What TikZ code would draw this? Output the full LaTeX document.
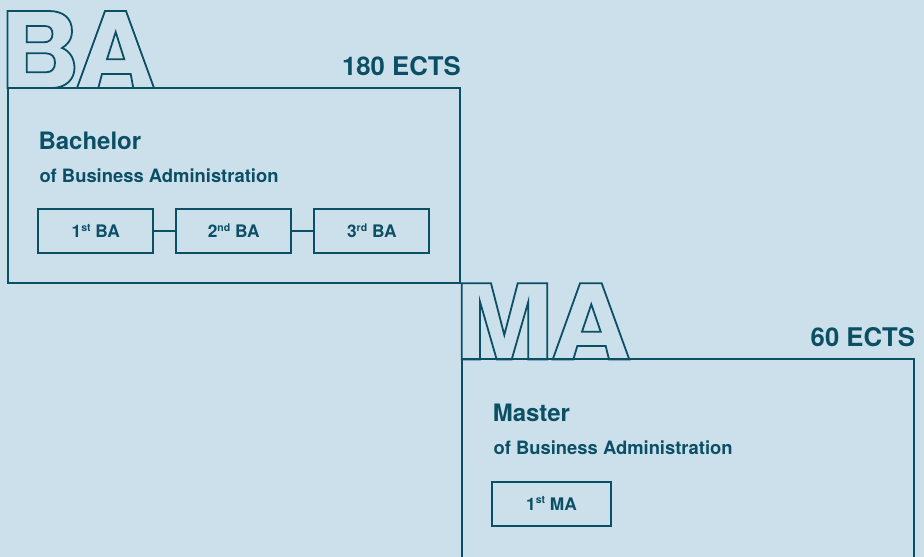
\documentclass[tikz,border=0pt]{standalone}
\usepackage{fontspec}
\setmainfont{TeX Gyre Heros}
\definecolor{bgc}{HTML}{CCE0EB}
\definecolor{fgc}{HTML}{0B4F65}
\newcommand{\myord}[1]{\raisebox{6.3pt}{\fontsize{10.5}{10.5}\selectfont #1}}
\tikzset{
  frame/.style={draw=fgc, line width=2pt},
  letter/.style={draw=fgc, line width=1.8pt, line join=miter},
  txt/.style={inner sep=0pt, text=fgc},
  yearbox/.style={draw=fgc, line width=2pt, minimum width=115pt, minimum height=44pt,
    inner sep=0pt, text height=12.4pt, text depth=0pt, text=fgc,
    font=\fontsize{17.3}{19}\selectfont\bfseries},
  ectsfont/.style={font=\fontsize{25.7}{30}\selectfont\bfseries},
  titlefont/.style={font=\fontsize{24}{28}\selectfont\bfseries},
  subfont/.style={font=\fontsize{18.4}{22}\selectfont\bfseries}
}
\begin{document}
\begin{tikzpicture}[x=1pt,y=-1pt]
\fill[bgc] (0,0) rectangle (924,557);
\useasboundingbox (0,0) rectangle (924,557);

% ---- big outlined BA ----
\draw[letter] (7.5,88) -- (7.5,11) -- (49,11) .. controls (63,11) and (72,18) .. (72,31)
  .. controls (72,40) and (67,45) .. (62,48) .. controls (70,51) and (74.5,59) .. (74.5,68)
  .. controls (74.5,80) and (65,88) .. (52,88) -- cycle;
\draw[letter] (26.7,26) -- (45,26) .. controls (50,26) and (52.5,29) .. (52.5,34)
  .. controls (52.5,39.5) and (49,42.3) .. (44,42.3) -- (26.7,42.3) -- cycle;
\draw[letter] (26.7,53.3) -- (46,53.3) .. controls (52,53.3) and (55,57) .. (55,62.8)
  .. controls (55,68.5) and (52,72.3) .. (46,72.3) -- (26.7,72.3) -- cycle;
\draw[letter] (77,88) -- (105,11) -- (126,11) -- (154,88) -- (133.3,88) -- (130.7,74)
  -- (102,74) -- (98.3,88) -- cycle;
\draw[letter] (115.7,32) -- (124.3,59.3) -- (107,59.3) -- cycle;

% ---- BA frame ----
\draw[frame] (7.5,87.7) rectangle (460,283.3);
\node[txt, ectsfont, anchor=base east] (ectsba) at (461,75) {180 ECTS};
\node[txt, titlefont, anchor=base west] (bach) at (38.3,149) {Bachelor};
\node[txt, subfont, anchor=base west] (ofba) at (39.3,182.3) {of Business Administration};

\node[yearbox] (b1) at (95.8,231.3) {1\myord{st} BA};
\node[yearbox] (b2) at (233.7,231.3) {2\myord{nd} BA};
\node[yearbox] (b3) at (371.8,231.3) {3\myord{rd} BA};
\draw[frame] (b1.east) -- (b2.west);
\draw[frame] (b2.east) -- (b3.west);

% ---- big outlined MA ----
\draw[letter] (461.7,359.5) -- (461.7,283.3) -- (491,283.3) -- (504.3,335) -- (517.7,283.3)
  -- (547.3,283.3) -- (547.3,359.5) -- (528.3,359.5) -- (528.3,301.7) -- (511.7,359.5)
  -- (496.7,359.5) -- (480,301.7) -- (480,359.5) -- cycle;
\draw[letter] (552.7,359.5) -- (580,283.3) -- (601.7,283.3) -- (629.3,359.5) -- (609,359.5)
  -- (605.7,346) -- (577.3,346) -- (573.3,359.5) -- cycle;
\draw[letter] (591.3,304.3) -- (600.7,331.7) -- (582,331.7) -- cycle;

% ---- MA frame ----
\coordinate (mabl) at (461.7,565);
\coordinate (mabr) at (914,565);
\draw[frame] (mabl) -- (461.7,359.3) -- (914,359.3) -- (mabr);
\node[txt, ectsfont, anchor=base east] (ectsma) at (915.3,346.7) {60 ECTS};
\node[txt, titlefont, anchor=base west] (master) at (492.6,421.7) {Master};
\node[txt, subfont, anchor=base west] (ofma) at (493.4,454) {of Business Administration};
\node[yearbox, minimum width=119.6pt] (m1) at (551.5,503.8) {1\myord{st} MA};
\end{tikzpicture}
\end{document}
